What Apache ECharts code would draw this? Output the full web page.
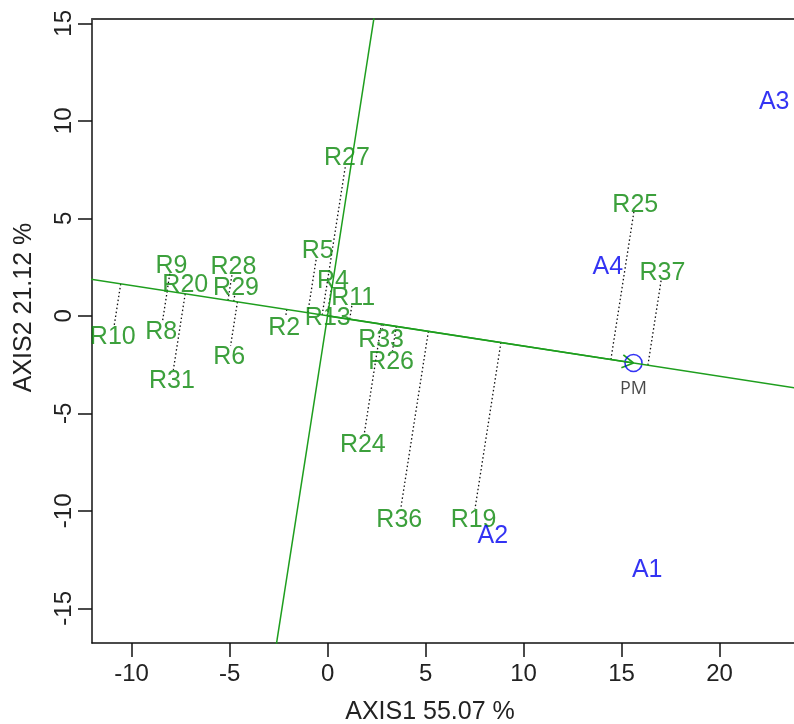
<!DOCTYPE html>
<html>
<head>
<meta charset="utf-8">
<script src="https://cdn.jsdelivr.net/npm/echarts@6/dist/echarts.min.js"></script>
<style>html,body{margin:0;padding:0;background:#fff;}#chart{width:794px;height:724px;}</style>
</head>
<body>
<div id="chart"></div>
<script>
// Genotype scores (AXIS1, AXIS2)
const genotypes = ['R9','R28','R20','R29','R10','R8','R2','R6','R31','R5','R4','R11','R13','R27','R33','R26','R24','R36','R19','R25','R37'];
const genoX = [-7.97,-4.80,-7.26,-4.67,-10.96,-8.49,-2.21,-5.02,-7.94,-0.50,0.27,1.31,0.01,0.99,2.73,3.24,1.80,3.66,7.45,15.70,17.09];
const genoY = [2.67,2.61,1.68,1.50,-0.97,-0.72,-0.51,-2.00,-3.23,3.43,1.90,0.99,0.00,8.20,-1.14,-2.26,-6.52,-10.37,-10.37,5.78,2.27];
// Environment scores
const envs = ['A1','A2','A3','A4'];
const envX = [16.31,8.43,22.79,14.30];
const envY = [-12.93,-11.22,11.07,2.61];
// Average environment (PM)
const pmName = 'PM';
const pm = [15.61,-2.42];
// Axes
const xTicks = [-10,-5,0,5,10,15,20];
const yTicks = [-15,-10,-5,0,5,10,15];
const xName = 'AXIS1 55.07 %';
const yName = 'AXIS2 21.12 %';

const GREEN = '#1e9e1e', GREEN_TXT = '#0b880b', BLUE = '#0000f0';
const XMIN = -12.02, XMAX = 23.8, YMIN = -16.78, YMAX = 15.22;

const len = Math.hypot(pm[0], pm[1]);
const u = [pm[0]/len, pm[1]/len];      // AEA abscissa direction
const v = [-u[1], u[0]];               // AEA ordinate direction

const chart = echarts.init(document.getElementById('chart'), null, {renderer:'canvas'});
const axisCommon = {
  type:'value', splitLine:{show:false},
};
const txtLabel = {show:true, position:'inside', offset:[0,2], formatter:'{b}', fontSize:25, fontFamily:'Liberation Sans'};
chart.setOption({
  animation:false,
  grid:{left:92, right:0, top:19, bottom:81, containLabel:false, outerBoundsMode:'none'},
  xAxis:[{
    ...axisCommon, min:XMIN, max:XMAX, position:'bottom',
    axisLine:{show:true, onZero:false, lineStyle:{color:'#111', width:1.5}},
    axisTick:{show:true, length:14, lineStyle:{color:'#111', width:1.5}, customValues:xTicks},
    axisLabel:{show:true, customValues:xTicks, fontSize:24, color:'#222', fontFamily:'Liberation Sans', margin:19},
    name:xName, nameLocation:'middle', nameGap:57,
    nameTextStyle:{fontSize:25, color:'#222', fontFamily:'Liberation Sans', padding:[0,26,0,0]}
  },{
    ...axisCommon, min:XMIN, max:XMAX, position:'top',
    axisLine:{show:true, onZero:false, lineStyle:{color:'#444', width:2}},
    axisTick:{show:false}, axisLabel:{show:false}
  }],
  yAxis:[{
    ...axisCommon, min:YMIN, max:YMAX, position:'left',
    axisLine:{show:true, onZero:false, lineStyle:{color:'#111', width:1.5}},
    axisTick:{show:true, length:14, lineStyle:{color:'#111', width:1.5}, customValues:yTicks},
    axisLabel:{show:true, customValues:yTicks, rotate:90, fontSize:24, color:'#222', fontFamily:'Liberation Sans', margin:16},
    name:yName, nameLocation:'middle', nameGap:55,
    nameTextStyle:{fontSize:25, color:'#222', fontFamily:'Liberation Sans', padding:[0,0,0,47]}
  }],
  series:[
    {type:'line', silent:true, symbol:'none', clip:true,
     data:[[-40*u[0],-40*u[1]],[40*u[0],40*u[1]]],
     lineStyle:{color:GREEN, width:1.5}},
    {type:'line', silent:true, symbol:'none', clip:true,
     data:[[-40*v[0],-40*v[1]],[40*v[0],40*v[1]]],
     lineStyle:{color:GREEN, width:1.5}},
    {type:'custom', silent:true, clip:true,
     data:genoX.map((x,i)=>[x, genoY[i]]),
     renderItem:function(params, api){
       const p = [api.value(0), api.value(1)];
       const t = p[0]*u[0] + p[1]*u[1];
       const F = api.coord([t*u[0], t*u[1]]);
       const P = api.coord(p);
       const d = Math.hypot(F[0]-P[0], F[1]-P[1]);
       if (d < 12) return null;
       const k = 9/d;
       const E = [P[0] + (F[0]-P[0])*k, P[1] + (F[1]-P[1])*k];
       return {type:'line', shape:{x1:F[0], y1:F[1], x2:E[0], y2:E[1]},
               style:{stroke:'#111', lineWidth:1.3, lineDash:[1.5,2.5]}};
     }},
    {type:'custom', silent:true, clip:true,
     data:[pm],
     renderItem:function(params, api){
       const O = api.coord([0,0]);
       const P = api.coord([api.value(0), api.value(1)]);
       const a = Math.atan2(P[1]-O[1], P[0]-O[0]);
       const h = 13, s = Math.PI/6;
       const st = {stroke:GREEN, lineWidth:1.7};
       return {type:'group', children:[
         {type:'line', shape:{x1:O[0], y1:O[1], x2:P[0], y2:P[1]}, style:st},
         {type:'line', shape:{x1:P[0], y1:P[1], x2:P[0]-h*Math.cos(a-s), y2:P[1]-h*Math.sin(a-s)}, style:st},
         {type:'line', shape:{x1:P[0], y1:P[1], x2:P[0]-h*Math.cos(a+s), y2:P[1]-h*Math.sin(a+s)}, style:st}
       ]};
     }},
    {type:'scatter', silent:true, symbolSize:1, itemStyle:{color:'rgba(0,0,0,0)'},
     data:genotypes.map((n,i)=>({name:n, value:[genoX[i], genoY[i]]})),
     label:{...txtLabel, color:GREEN_TXT}},
    {type:'scatter', silent:true, symbolSize:1, itemStyle:{color:'rgba(0,0,0,0)'},
     data:envs.map((n,i)=>({name:n, value:[envX[i], envY[i]]})),
     label:{...txtLabel, color:BLUE}},
    {type:'scatter', silent:true, symbol:'circle', symbolSize:17,
     itemStyle:{color:'rgba(0,0,0,0)', borderColor:BLUE, borderWidth:1.6},
     data:[{name:pmName, value:pm}],
     label:{show:true, position:'bottom', distance:8, formatter:'{b}', color:'#1a1a1a', fontSize:18, fontFamily:'Open Sans'}}
  ]
});
</script>
</body>
</html>
